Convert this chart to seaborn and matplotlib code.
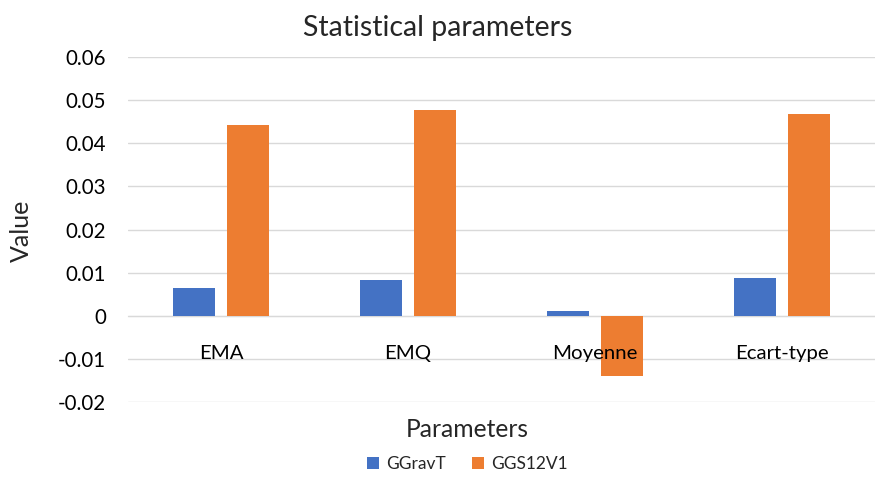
import matplotlib
matplotlib.use("Agg")
import matplotlib.pyplot as plt
import seaborn as sns
import pandas as pd

CATEGORIES = ["EMA", "EMQ", "Moyenne", "Ecart-type"]
GGRAVT = [0.0065, 0.0084, 0.0012, 0.0088]
GGS12V1 = [0.0442, 0.0477, -0.0140, 0.0467]
SERIES = ["GGravT", "GGS12V1"]
YTICKS = [-0.02, -0.01, 0, 0.01, 0.02, 0.03, 0.04, 0.05, 0.06]
YTICK_LABELS = ["-0.02", "-0.01", "0", "0.01", "0.02", "0.03", "0.04", "0.05", "0.06"]

COLORS = ["#4472C4", "#ED7D31"]

df = pd.DataFrame({
    "Parameters": CATEGORIES * 2,
    "Value": GGRAVT + GGS12V1,
    "Series": [SERIES[0]] * len(CATEGORIES) + [SERIES[1]] * len(CATEGORIES),
})

sns.set_style("white")
plt.rcParams["font.family"] = ["Lato", "DejaVu Sans"]

fig = plt.figure(figsize=(8.75, 4.86), dpi=100)
ax = fig.add_axes([128 / 875, 1 - 402 / 486, 747 / 875, 345 / 486])

sns.barplot(data=df, x="Parameters", y="Value", hue="Series", palette=COLORS,
            width=0.578, gap=0.222, saturation=1, ax=ax, edgecolor="none")

ax.set_ylim(-0.02, 0.06)
ax.set_xlim(-0.5, 3.5)
ax.set_yticks(YTICKS)
ax.set_yticklabels(YTICK_LABELS)
ax.yaxis.grid(True, color="#D9D9D9", linewidth=1.0)
ax.set_axisbelow(True)
# category labels sit on top of the bars, as in Excel
ax.xaxis.set_zorder(3)

for s in ["top", "right", "left"]:
    ax.spines[s].set_visible(False)
# category axis crosses at zero
ax.spines["bottom"].set_position(("data", 0))
ax.spines["bottom"].set_color("#D9D9D9")
ax.spines["bottom"].set_zorder(0.5)

ax.tick_params(axis="y", length=0, pad=16, labelsize=14.8, labelcolor="#000000")
ax.tick_params(axis="x", length=0, pad=21, labelsize=14.7, labelcolor="#000000")

ax.set_ylabel("Value", fontsize=18)
ax.yaxis.set_label_coords(-0.127, 0.496)
ax.set_xlabel("Parameters", fontsize=17.7)
ax.xaxis.set_label_coords(0.454, -0.046)

fig.text(0.5, 1 - 28 / 486, "Statistical parameters", ha="center", va="center", fontsize=20.5)

ax.legend(loc="center", bbox_to_anchor=(0.454, -0.18), ncol=2, frameon=False,
          fontsize=12.5, handlelength=0.7, handleheight=0.7, handletextpad=0.4,
          columnspacing=1.5)

fig.savefig("out.png", dpi=100)
